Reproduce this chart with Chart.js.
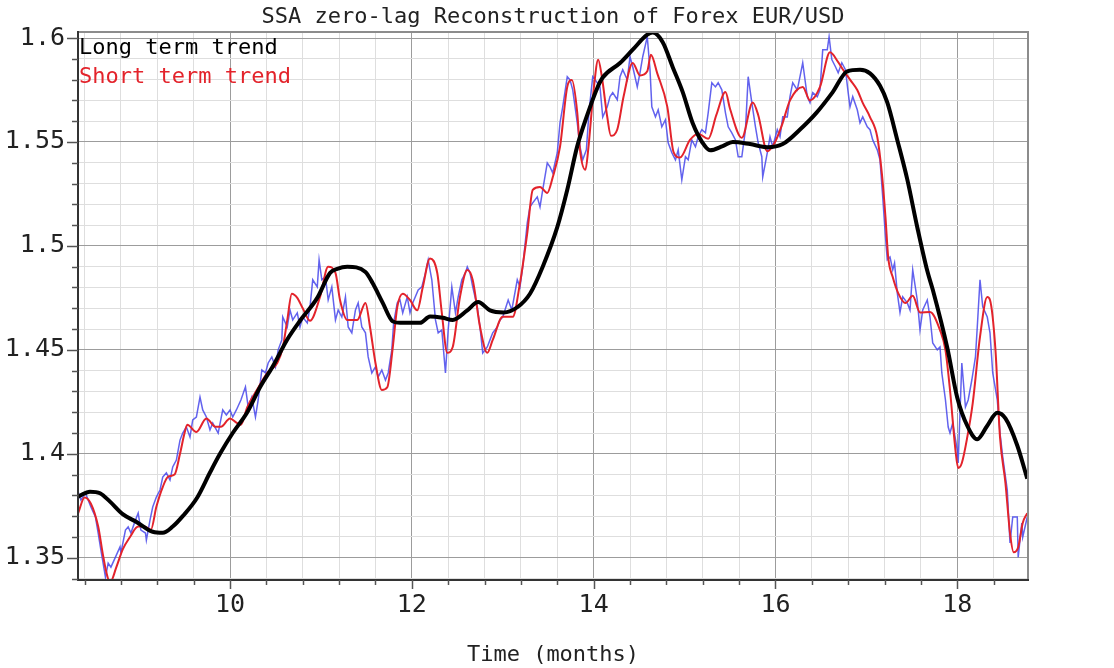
<!DOCTYPE html>
<html>
<head>
<meta charset="utf-8">
<title>SSA zero-lag Reconstruction of Forex EUR/USD</title>
<script src="https://cdn.jsdelivr.net/npm/chart.js@4.4.1/dist/chart.umd.min.js"></script>
<style>
  html, body { margin: 0; padding: 0; background: #fff; }
  canvas { display: block; }
</style>
</head>
<body>
<canvas id="grafico" width="1114" height="668"></canvas>
<script>
// valores (tempo em meses, cotacao EUR/USD)
const rawMonths = [8.33, 8.36, 8.41, 8.44, 8.47, 8.52, 8.55, 8.58, 8.63, 8.66, 8.69, 8.74, 8.79, 8.80, 8.85, 8.88, 8.91, 8.96, 8.99, 9.02,
  9.07, 9.08, 9.12, 9.15, 9.19, 9.23, 9.26, 9.30, 9.34, 9.37, 9.41, 9.45, 9.48, 9.52, 9.56, 9.59, 9.63, 9.67, 9.70, 9.74,
  9.78, 9.81, 9.87, 9.92, 9.96, 10.00, 10.03, 10.07, 10.12, 10.17, 10.20, 10.24, 10.28, 10.31, 10.35, 10.39, 10.42, 10.46, 10.50, 10.53,
  10.57, 10.58, 10.63, 10.66, 10.69, 10.74, 10.77, 10.80, 10.85, 10.88, 10.91, 10.96, 10.98, 11.01, 11.05, 11.08, 11.12, 11.16, 11.19, 11.23,
  11.27, 11.30, 11.34, 11.38, 11.41, 11.45, 11.49, 11.52, 11.56, 11.60, 11.63, 11.67, 11.71, 11.74, 11.78, 11.80, 11.84, 11.87, 11.90, 11.95,
  11.98, 12.01, 12.07, 12.11, 12.15, 12.18, 12.22, 12.26, 12.29, 12.33, 12.37, 12.40, 12.44, 12.48, 12.51, 12.55, 12.59, 12.61, 12.64, 12.67,
  12.72, 12.75, 12.78, 12.83, 12.86, 12.89, 12.94, 12.97, 13.00, 13.06, 13.10, 13.16, 13.19, 13.22, 13.27, 13.30, 13.33, 13.38, 13.41, 13.44,
  13.49, 13.52, 13.55, 13.60, 13.63, 13.66, 13.71, 13.74, 13.77, 13.82, 13.85, 13.88, 13.92, 13.95, 13.99, 14.04, 14.07, 14.10, 14.15, 14.18,
  14.21, 14.26, 14.29, 14.32, 14.37, 14.40, 14.43, 14.48, 14.51, 14.54, 14.59, 14.62, 14.64, 14.68, 14.71, 14.75, 14.79, 14.82, 14.86, 14.90,
  14.93, 14.97, 15.01, 15.04, 15.08, 15.12, 15.15, 15.19, 15.23, 15.26, 15.30, 15.34, 15.37, 15.41, 15.45, 15.48, 15.52, 15.56, 15.59, 15.63,
  15.67, 15.70, 15.74, 15.78, 15.81, 15.85, 15.86, 15.91, 15.94, 15.97, 16.02, 16.05, 16.08, 16.13, 16.16, 16.19, 16.24, 16.27, 16.30, 16.35,
  16.38, 16.41, 16.46, 16.49, 16.52, 16.57, 16.59, 16.62, 16.66, 16.69, 16.73, 16.77, 16.80, 16.82, 16.85, 16.90, 16.93, 16.96, 17.01, 17.04,
  17.07, 17.12, 17.15, 17.18, 17.21, 17.23, 17.26, 17.29, 17.31, 17.34, 17.37, 17.40, 17.45, 17.48, 17.51, 17.56, 17.59, 17.62, 17.67, 17.70,
  17.73, 17.78, 17.81, 17.83, 17.87, 17.90, 17.92, 17.95, 18.00, 18.01, 18.05, 18.09, 18.12, 18.16, 18.20, 18.22, 18.25, 18.28, 18.33, 18.36,
  18.39, 18.44, 18.47, 18.50, 18.55, 18.58, 18.61, 18.66, 18.67, 18.71, 18.72, 18.77];
const rawPrice = [1.3816, 1.3778, 1.3812, 1.3778, 1.3744, 1.3696, 1.3619, 1.3537, 1.3407, 1.3474, 1.3455, 1.3503, 1.3552, 1.3523, 1.3633, 1.3648, 1.3619, 1.3681, 1.3715, 1.3633,
  1.3619, 1.3585, 1.3681, 1.3744, 1.3792, 1.3826, 1.3888, 1.3908, 1.3874, 1.3937, 1.3970, 1.4066, 1.4100, 1.4129, 1.4081, 1.4163, 1.4177, 1.4273, 1.4211, 1.4177,
  1.4115, 1.4148, 1.4100, 1.4211, 1.4187, 1.4211, 1.4177, 1.4211, 1.4259, 1.4322, 1.4225, 1.4273, 1.4177, 1.4259, 1.4403, 1.4389, 1.4437, 1.4466, 1.4418, 1.4500,
  1.4548, 1.4658, 1.4610, 1.4692, 1.4644, 1.4678, 1.4610, 1.4658, 1.4630, 1.4707, 1.4837, 1.4803, 1.4933, 1.4837, 1.4851, 1.4740, 1.4803, 1.4644, 1.4692, 1.4658,
  1.4755, 1.4610, 1.4582, 1.4692, 1.4726, 1.4610, 1.4582, 1.4466, 1.4389, 1.4418, 1.4370, 1.4403, 1.4355, 1.4389, 1.4500, 1.4630, 1.4726, 1.4740, 1.4678, 1.4755,
  1.4678, 1.4726, 1.4788, 1.4803, 1.4870, 1.4933, 1.4837, 1.4644, 1.4582, 1.4596, 1.4389, 1.4596, 1.4803, 1.4678, 1.4755, 1.4837, 1.4870, 1.4899, 1.4870, 1.4803,
  1.4707, 1.4610, 1.4485, 1.4514, 1.4548, 1.4582, 1.4610, 1.4644, 1.4658, 1.4740, 1.4692, 1.4837, 1.4803, 1.4899, 1.5111, 1.5188, 1.5207, 1.5236, 1.5188, 1.5270,
  1.5399, 1.5380, 1.5351, 1.5448, 1.5592, 1.5669, 1.5814, 1.5799, 1.5751, 1.5592, 1.5477, 1.5414, 1.5462, 1.5650, 1.5814, 1.5785, 1.5765, 1.5620, 1.5669, 1.5718,
  1.5737, 1.5703, 1.5814, 1.5848, 1.5799, 1.5910, 1.5862, 1.5765, 1.5833, 1.5910, 1.6006, 1.5848, 1.5669, 1.5621, 1.5655, 1.5573, 1.5607, 1.5496, 1.5448, 1.5414,
  1.5462, 1.5318, 1.5429, 1.5414, 1.5510, 1.5477, 1.5525, 1.5559, 1.5544, 1.5640, 1.5785, 1.5765, 1.5785, 1.5751, 1.5640, 1.5573, 1.5544, 1.5510, 1.5429, 1.5429,
  1.5559, 1.5814, 1.5689, 1.5573, 1.5496, 1.5429, 1.5332, 1.5448, 1.5525, 1.5477, 1.5559, 1.5525, 1.5621, 1.5620, 1.5718, 1.5785, 1.5751, 1.5814, 1.5881, 1.5718,
  1.5689, 1.5737, 1.5718, 1.5751, 1.5944, 1.5944, 1.6006, 1.5896, 1.5862, 1.5833, 1.5881, 1.5848, 1.5737, 1.5669, 1.5718, 1.5655, 1.5592, 1.5621, 1.5573, 1.5559,
  1.5510, 1.5462, 1.5414, 1.5236, 1.5044, 1.4933, 1.4947, 1.4885, 1.4918, 1.4774, 1.4680, 1.4755, 1.4726, 1.4692, 1.4885, 1.4740, 1.4596, 1.4692, 1.4740, 1.4658,
  1.4533, 1.4500, 1.4514, 1.4389, 1.4259, 1.4129, 1.4100, 1.4148, 1.4018, 1.3956, 1.4437, 1.4225, 1.4259, 1.4355, 1.4466, 1.4610, 1.4837, 1.4707, 1.4658, 1.4582,
  1.4389, 1.4259, 1.4100, 1.3985, 1.3826, 1.3571, 1.3696, 1.3696, 1.3503, 1.3667, 1.3600, 1.3696];

const shortMonths = [8.33, 8.40, 8.47, 8.55, 8.60, 8.64, 8.68, 8.75, 8.82, 8.90, 8.99, 9.06, 9.13, 9.19, 9.26, 9.32, 9.39, 9.45, 9.50, 9.53,
  9.63, 9.74, 9.84, 9.90, 10.00, 10.07, 10.12, 10.19, 10.30, 10.41, 10.52, 10.58, 10.63, 10.68, 10.74, 10.80, 10.88, 10.99, 11.08, 11.16,
  11.21, 11.29, 11.40, 11.49, 11.54, 11.60, 11.67, 11.73, 11.79, 11.84, 11.90, 11.98, 12.06, 12.12, 12.20, 12.28, 12.33, 12.39, 12.45, 12.53,
  12.61, 12.67, 12.75, 12.83, 12.89, 13.00, 13.11, 13.19, 13.27, 13.33, 13.41, 13.49, 13.55, 13.63, 13.71, 13.76, 13.82, 13.85, 13.91, 13.94,
  14.00, 14.05, 14.09, 14.15, 14.19, 14.26, 14.33, 14.43, 14.51, 14.59, 14.63, 14.70, 14.81, 14.88, 14.95, 15.06, 15.15, 15.26, 15.35, 15.45,
  15.50, 15.63, 15.75, 15.81, 15.91, 15.99, 16.07, 16.16, 16.30, 16.38, 16.49, 16.60, 16.69, 16.74, 16.82, 16.90, 16.96, 17.04, 17.12, 17.17,
  17.21, 17.24, 17.29, 17.35, 17.43, 17.51, 17.59, 17.70, 17.81, 17.87, 17.92, 17.98, 18.01, 18.05, 18.11, 18.17, 18.25, 18.33, 18.36, 18.42,
  18.47, 18.53, 18.58, 18.62, 18.67, 18.72, 18.77];
const shortTrend = [1.3715, 1.3790, 1.3760, 1.3650, 1.3520, 1.3430, 1.3380, 1.3455, 1.3540, 1.3600, 1.3650, 1.3650, 1.3635, 1.3745, 1.3840, 1.3890, 1.3900, 1.4000, 1.4100, 1.4140,
  1.4105, 1.4170, 1.4130, 1.4130, 1.4170, 1.4150, 1.4140, 1.4225, 1.4310, 1.4390, 1.4437, 1.4510, 1.4643, 1.4770, 1.4750, 1.4700, 1.4640, 1.4754, 1.4900, 1.4870,
  1.4740, 1.4644, 1.4644, 1.4726, 1.4610, 1.4437, 1.4307, 1.4320, 1.4510, 1.4706, 1.4770, 1.4740, 1.4690, 1.4800, 1.4940, 1.4870, 1.4678, 1.4486, 1.4514, 1.4755,
  1.4884, 1.4836, 1.4611, 1.4486, 1.4548, 1.4659, 1.4659, 1.4822, 1.5062, 1.5270, 1.5284, 1.5255, 1.5330, 1.5476, 1.5765, 1.5798, 1.5640, 1.5462, 1.5366, 1.5462,
  1.5750, 1.5896, 1.5815, 1.5620, 1.5530, 1.5560, 1.5720, 1.5880, 1.5820, 1.5840, 1.5920, 1.5830, 1.5670, 1.5450, 1.5425, 1.5510, 1.5540, 1.5515, 1.5630, 1.5740,
  1.5660, 1.5520, 1.5690, 1.5630, 1.5455, 1.5495, 1.5580, 1.5700, 1.5765, 1.5700, 1.5765, 1.5931, 1.5884, 1.5850, 1.5800, 1.5750, 1.5688, 1.5620, 1.5524, 1.5350,
  1.5140, 1.4946, 1.4850, 1.4773, 1.4725, 1.4760, 1.4680, 1.4682, 1.4595, 1.4499, 1.4307, 1.4018, 1.3932, 1.3956, 1.4080, 1.4244, 1.4562, 1.4754, 1.4740, 1.4500,
  1.4080, 1.3859, 1.3619, 1.3527, 1.3550, 1.3667, 1.3715];

const longMonths = [8.33, 8.46, 8.57, 8.68, 8.82, 8.98, 9.15, 9.26, 9.37, 9.48, 9.64, 9.78, 9.89, 10.03, 10.19, 10.33, 10.47, 10.63, 10.77, 10.96,
  11.10, 11.18, 11.29, 11.49, 11.57, 11.68, 11.79, 11.87, 12.09, 12.20, 12.34, 12.45, 12.61, 12.73, 12.86, 13.01, 13.16, 13.30, 13.44, 13.60,
  13.71, 13.82, 13.93, 14.04, 14.10, 14.29, 14.43, 14.59, 14.65, 14.76, 14.87, 14.98, 15.09, 15.20, 15.28, 15.42, 15.53, 15.72, 15.91, 16.08,
  16.27, 16.45, 16.63, 16.79, 16.93, 17.04, 17.15, 17.23, 17.34, 17.45, 17.56, 17.67, 17.73, 17.89, 18.00, 18.11, 18.22, 18.33, 18.44, 18.53,
  18.66, 18.77];
const longTrend = [1.3794, 1.3818, 1.3810, 1.3770, 1.3710, 1.3670, 1.3625, 1.3620, 1.3650, 1.3700, 1.3790, 1.3910, 1.4000, 1.4100, 1.4200, 1.4320, 1.4420, 1.4550, 1.4640, 1.4750,
  1.4870, 1.4890, 1.4900, 1.4875, 1.4820, 1.4726, 1.4637, 1.4630, 1.4630, 1.4660, 1.4654, 1.4644, 1.4690, 1.4730, 1.4690, 1.4680, 1.4705, 1.4770, 1.4900, 1.5090,
  1.5270, 1.5480, 1.5630, 1.5760, 1.5810, 1.5880, 1.5944, 1.6016, 1.6026, 1.5980, 1.5860, 1.5740, 1.5590, 1.5495, 1.5460, 1.5480, 1.5500, 1.5490, 1.5475, 1.5490,
  1.5560, 1.5640, 1.5740, 1.5840, 1.5847, 1.5830, 1.5770, 1.5690, 1.5510, 1.5320, 1.5090, 1.4880, 1.4790, 1.4510, 1.4270, 1.4135, 1.4070, 1.4135, 1.4197, 1.4170,
  1.4040, 1.3880];

const xMin = 8.328, xMax = 18.778;
const yMin = 1.3393, yMax = 1.6029;

const fonteMono = '"DejaVu Sans Mono", "Liberation Mono", monospace';

function pontos(xs, ys) {
    return xs.map((x, i) => ({ x: x, y: ys[i] }));
}

function isMajorX(v) { return Math.abs(v / 2 - Math.round(v / 2)) < 1e-6; }
function isMajorY(v) { return Math.abs(v * 20 - Math.round(v * 20)) < 1e-6; }

// fundo branco, moldura, marcas dos eixos e legenda em texto
const molduraPlugin = {
    id: 'moldura',
    beforeDraw(chart) {
        const ctx = chart.ctx;
        ctx.save();
        ctx.fillStyle = '#ffffff';
        ctx.fillRect(0, 0, chart.width, chart.height);
        ctx.restore();
    },
    afterDraw(chart) {
        const { ctx, chartArea: a, scales } = chart;
        ctx.save();
        ctx.lineCap = 'butt';
        ctx.strokeStyle = '#8c8c8c';
        ctx.lineWidth = 2;
        ctx.beginPath();
        ctx.moveTo(a.left, a.top);
        ctx.lineTo(a.right, a.top);
        ctx.lineTo(a.right, a.bottom);
        ctx.stroke();

        ctx.strokeStyle = '#333333';
        ctx.lineWidth = 2;
        ctx.beginPath();
        ctx.moveTo(a.left, a.top - 1);
        ctx.lineTo(a.left, a.bottom);
        ctx.lineTo(a.right + 1, a.bottom);
        ctx.stroke();

        ctx.strokeStyle = '#555555';
        ctx.lineWidth = 1.5;
        scales.y.ticks.forEach(t => {
            const py = Math.round(scales.y.getPixelForValue(t.value)) + 0.5;
            const len = isMajorY(t.value) ? 11 : 6;
            ctx.beginPath();
            ctx.moveTo(a.left - len, py);
            ctx.lineTo(a.left, py);
            ctx.stroke();
        });
        scales.x.ticks.forEach(t => {
            const px = Math.round(scales.x.getPixelForValue(t.value)) + 0.5;
            const len = isMajorX(t.value) ? 9 : 5;
            ctx.beginPath();
            ctx.moveTo(px, a.bottom);
            ctx.lineTo(px, a.bottom + len);
            ctx.stroke();
        });

        ctx.font = '22px ' + fonteMono;
        ctx.textAlign = 'left';
        ctx.textBaseline = 'middle';
        let linha = 0;
        chart.data.datasets.forEach(ds => {
            if (!ds.mostrarNaLegenda) return;
            ctx.fillStyle = ds.borderColor;
            ctx.fillText(ds.label, a.left + 1, a.top + 16 + linha * 29);
            linha++;
        });
        ctx.restore();
    }
};

new Chart(document.getElementById('grafico'), {
    type: 'line',
    data: {
        datasets: [
            {
                label: 'Long term trend',
                mostrarNaLegenda: true,
                data: pontos(longMonths, longTrend),
                borderColor: '#000000',
                borderWidth: 4,
                pointRadius: 0,
                tension: 0.4,
                cubicInterpolationMode: 'monotone'
            },
            {
                label: 'Short term trend',
                mostrarNaLegenda: true,
                data: pontos(shortMonths, shortTrend),
                borderColor: '#e3232b',
                borderWidth: 2,
                pointRadius: 0,
                tension: 0.4,
                cubicInterpolationMode: 'monotone'
            },
            {
                label: 'EUR/USD',
                mostrarNaLegenda: false,
                data: pontos(rawMonths, rawPrice),
                borderColor: 'rgba(70, 70, 235, 0.85)',
                borderWidth: 1.5,
                pointRadius: 0,
                tension: 0
            }
        ]
    },
    options: {
        responsive: false,
        devicePixelRatio: 1,
        animation: false,
        layout: { padding: { left: 0, right: 86, top: 0, bottom: 0 } },
        plugins: {
            legend: { display: false },
            tooltip: { enabled: false },
            title: {
                display: true,
                text: 'SSA zero-lag Reconstruction of Forex EUR/USD',
                color: '#222',
                fullSize: false,
                font: { family: fonteMono, size: 22, weight: 'normal', lineHeight: 1.2 },
                padding: { top: 4, bottom: 1.6 }
            }
        },
        scales: {
            x: {
                type: 'linear',
                min: xMin,
                max: xMax,
                border: { display: false },
                grid: {
                    drawTicks: false,
                    color: c => (c.tick && isMajorX(c.tick.value)) ? '#9c9c9c' : '#dedede',
                    lineWidth: 1
                },
                ticks: {
                    stepSize: 0.4,
                    includeBounds: false,
                    autoSkip: false,
                    maxRotation: 0,
                    padding: 10,
                    color: '#222',
                    font: { family: fonteMono, size: 25 },
                    callback: v => isMajorX(v) ? String(Math.round(v)) : ''
                },
                title: {
                    display: true,
                    text: 'Time (months)',
                    color: '#222',
                    font: { family: fonteMono, size: 22, lineHeight: 1.2 },
                    padding: { top: 0, bottom: 0 }
                },
                afterFit: s => { s.height = 88; }
            },
            y: {
                type: 'linear',
                min: yMin,
                max: yMax,
                border: { display: false },
                grid: {
                    drawTicks: false,
                    color: c => (c.tick && isMajorY(c.tick.value)) ? '#9c9c9c' : '#dedede',
                    lineWidth: 1
                },
                ticks: {
                    stepSize: 0.01,
                    includeBounds: false,
                    autoSkip: false,
                    padding: 13,
                    color: '#222',
                    font: { family: fonteMono, size: 25 },
                    callback: v => isMajorY(v) ? String(parseFloat(v.toFixed(2))) : ''
                },
                afterFit: s => { s.width = 78; }
            }
        }
    },
    plugins: [molduraPlugin]
});
</script>
</body>
</html>
